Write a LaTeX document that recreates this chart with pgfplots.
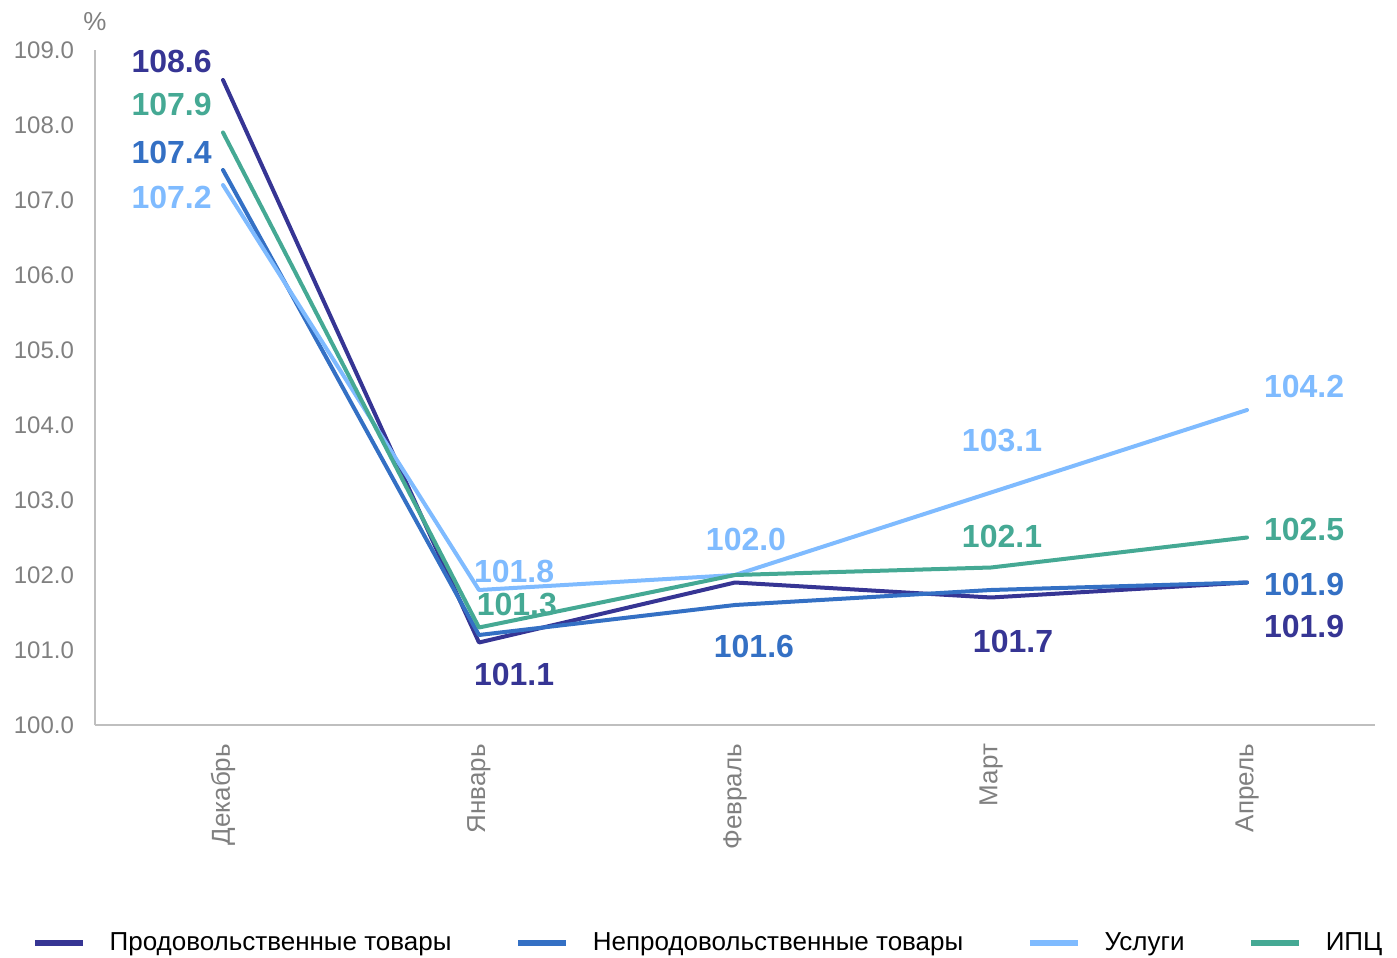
\documentclass[border=0pt]{standalone}
\usepackage{fontspec}
\setmainfont{Liberation Sans}
\usepackage{pgfplots}
\pgfplotsset{compat=1.18}
\definecolor{cFood}{HTML}{363594}
\definecolor{cNonFood}{HTML}{3470C4}
\definecolor{cServ}{HTML}{7FBBFF}
\definecolor{cCPI}{HTML}{45A994}
\definecolor{cAxis}{HTML}{BFBFBF}
\definecolor{cTick}{HTML}{808080}
\begin{document}
\begin{tikzpicture}
\path[use as bounding box] (-47.5pt,-116.5pt) rectangle (651pt,362.5pt);
\begin{axis}[
  scale only axis,
  width=640pt, height=337.5pt,
  xmin=-0.5, xmax=4.5, ymin=100, ymax=109,
  axis x line=bottom, axis y line=left,
  axis line style={draw=cAxis, line width=1pt, -},
  xtick={0,1,2,3,4},
  xticklabels={Декабрь,Январь,Февраль,Март,Апрель},
  x tick label style={rotate=90, anchor=east, font=\fontsize{13}{15}\selectfont, text=cTick},
  ytick={100,101,...,109},
  y tick label style={font=\fontsize{12}{14}\selectfont, text=cTick},
  yticklabel style={/pgf/number format/.cd, fixed, fixed zerofill, precision=1, assume math mode=true},
  major tick length=0pt,
  xticklabel shift=6pt,
  yticklabel shift=7pt,
  clip=false,
  legend columns=4,
  legend style={at={(-0.0492,-0.323)}, anchor=west, draw=none, inner sep=0pt,
    font=\fontsize{13}{15}\selectfont,
    /tikz/every odd column/.append style={column sep=10pt},
    /tikz/every even column/.append style={column sep=30pt}},
  legend image code/.code={\draw[line width=2.6pt, line cap=butt] (0pt,0pt) -- (24pt,0pt);},
  every axis plot/.append style={line width=2pt, line join=round, line cap=round},
]
\addplot[cFood] coordinates {(0,108.6) (1,101.1) (2,101.9) (3,101.7) (4,101.9)};
\addlegendentry{Продовольственные товары}
\addplot[cNonFood] coordinates {(0,107.4) (1,101.2) (2,101.6) (3,101.8) (4,101.9)};
\addlegendentry{Непродовольственные товары}
\addplot[cServ] coordinates {(0,107.2) (1,101.8) (2,102.0) (3,103.1) (4,104.2)};
\addlegendentry{Услуги}
\addplot[cCPI] coordinates {(0,107.9) (1,101.3) (2,102.0) (3,102.1) (4,102.5)};
\addlegendentry{ИПЦ}

\node[text=cTick, font=\fontsize{13}{15}\selectfont] at (rel axis cs:0,1) [yshift=14pt] {\%};

\tikzset{lbl/.style={font=\fontsize{16}{18}\selectfont\bfseries, inner sep=0pt}}
% December
\node[lbl, text=cFood, anchor=east] at (axis cs:-0.043,108.853) {108.6};
\node[lbl, text=cCPI, anchor=east] at (axis cs:-0.043,108.267) {107.9};
\node[lbl, text=cNonFood, anchor=east] at (axis cs:-0.043,107.627) {107.4};
\node[lbl, text=cServ, anchor=east] at (axis cs:-0.043,107.027) {107.2};
% January
\node[lbl, text=cServ] at (axis cs:1.137,102.053) {101.8};
\node[lbl, text=cCPI] at (axis cs:1.148,101.6) {101.3};
\node[lbl, text=cFood] at (axis cs:1.137,100.68) {101.1};
% February
\node[lbl, text=cServ] at (axis cs:2.043,102.467) {102.0};
\node[lbl, text=cNonFood] at (axis cs:2.074,101.053) {101.6};
% March
\node[lbl, text=cServ] at (axis cs:3.043,103.787) {103.1};
\node[lbl, text=cCPI] at (axis cs:3.043,102.507) {102.1};
\node[lbl, text=cFood] at (axis cs:3.086,101.12) {101.7};
% April
\node[lbl, text=cServ] at (axis cs:4.223,104.507) {104.2};
\node[lbl, text=cCPI] at (axis cs:4.223,102.613) {102.5};
\node[lbl, text=cNonFood] at (axis cs:4.223,101.88) {101.9};
\node[lbl, text=cFood] at (axis cs:4.223,101.307) {101.9};
\end{axis}
\end{tikzpicture}
\end{document}
